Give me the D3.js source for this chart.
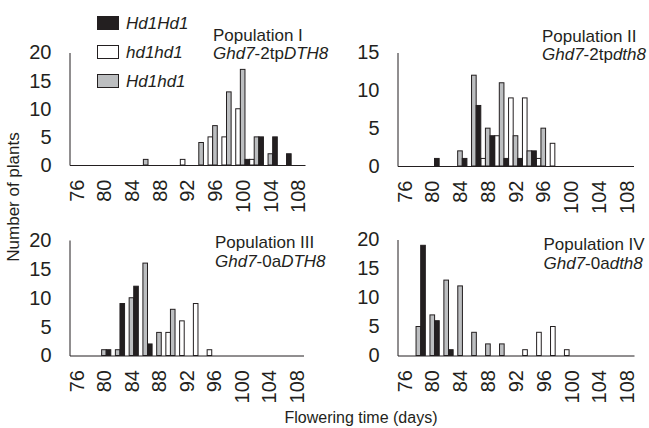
<!DOCTYPE html>
<html>
<head>
<meta charset="utf-8">
<script src="https://cdn.jsdelivr.net/npm/d3@7"></script>
<style>
  body { margin: 0; background: #fff; }
  svg { display: block; font-family: "Liberation Sans", Arial, sans-serif; }
  .bar { stroke: #231f20; stroke-width: 1; }
  .axis path { stroke: #231f20; stroke-width: 1; }
  .axis text { fill: #231f20; font-size: 20px; }
  .label { fill: #231f20; }
</style>
</head>
<body>
<div id="chart"></div>
<script>
// flowering time categories (2-day bins)
var days = [76, 78, 80, 82, 84, 86, 88, 90, 92, 94, 96, 98, 100, 102, 104, 106, 108];

// genotype classes, drawn in this order inside each bin
var genotypes = ["hd1hd1", "Hd1hd1", "Hd1Hd1"];
var legendOrder = ["Hd1Hd1", "hd1hd1", "Hd1hd1"];

// Population I  (Ghd7-2tpDTH8)
var popI_hd1hd1 = [0, 0, 0, 0, 0, 0, 0, 0, 1, 0, 5, 5, 10, 1, 0, 0, 0];
var popI_Hd1hd1 = [0, 0, 0, 0, 0, 1, 0, 0, 0, 4, 7, 13, 17, 5, 2, 0, 0];
var popI_Hd1Hd1 = [0, 0, 0, 0, 0, 0, 0, 0, 0, 0, 0, 0, 1, 5, 5, 2, 0];

// Population II (Ghd7-2tpdth8)
var popII_hd1hd1 = [0, 0, 0, 0, 0, 0, 1, 4, 9, 9, 1, 3, 0, 0, 0, 0, 0];
var popII_Hd1hd1 = [0, 0, 0, 0, 2, 12, 5, 11, 4, 2, 5, 0, 0, 0, 0, 0, 0];
var popII_Hd1Hd1 = [0, 0, 1, 0, 1, 8, 4, 1, 1, 2, 0, 0, 0, 0, 0, 0, 0];

// Population III (Ghd7-0aDTH8)
var popIII_hd1hd1 = [0, 0, 0, 0, 0, 0, 0, 4, 6, 9, 1, 0, 0, 0, 0, 0, 0];
var popIII_Hd1hd1 = [0, 0, 1, 1, 10, 16, 4, 8, 0, 0, 0, 0, 0, 0, 0, 0, 0];
var popIII_Hd1Hd1 = [0, 0, 1, 9, 12, 2, 0, 0, 0, 0, 0, 0, 0, 0, 0, 0, 0];

// Population IV (Ghd7-0adth8)
var popIV_hd1hd1 = [0, 0, 0, 0, 0, 0, 0, 0, 0, 1, 4, 5, 1, 0, 0, 0, 0];
var popIV_Hd1hd1 = [0, 5, 7, 13, 12, 4, 2, 2, 0, 0, 0, 0, 0, 0, 0, 0, 0];
var popIV_Hd1Hd1 = [0, 19, 6, 1, 0, 0, 0, 0, 0, 0, 0, 0, 0, 0, 0, 0, 0];

var yTicks20 = [0, 5, 10, 15, 20];
var yTicks15 = [0, 5, 10, 15];

var fills = { Hd1Hd1: "#231f20", hd1hd1: "#ffffff", Hd1hd1: "#bcbec0" };

var width = 649, height = 428;

var svg = d3.select("#chart").append("svg")
  .attr("width", width)
  .attr("height", height);

// panel layout: plot box plus title anchor
var panels = [
  { name: "Population I", geno: ["Ghd7", "-2tp", "DTH8"],
    series: [popI_hd1hd1, popI_Hd1hd1, popI_Hd1Hd1], ticks: yTicks20,
    left: 69.5, right: 305, top: 52.5, bottom: 165, tx: 213, ty: 40.5 },
  { name: "Population II", geno: ["Ghd7", "-2tp", "dth8"],
    series: [popII_hd1hd1, popII_Hd1hd1, popII_Hd1Hd1], ticks: yTicks15,
    left: 397.5, right: 633.5, top: 52.5, bottom: 166, tx: 542, ty: 41.5 },
  { name: "Population III", geno: ["Ghd7", "-0a", "DTH8"],
    series: [popIII_hd1hd1, popIII_Hd1hd1, popIII_Hd1Hd1], ticks: yTicks20,
    left: 69.5, right: 303.5, top: 240, bottom: 355.5, tx: 215, ty: 248 },
  { name: "Population IV", geno: ["Ghd7", "-0a", "dth8"],
    series: [popIV_hd1hd1, popIV_Hd1hd1, popIV_Hd1Hd1], ticks: yTicks20,
    left: 397.5, right: 634, top: 239.5, bottom: 355.5, tx: 543.5, ty: 250 }
];

panels.forEach(function (p) {
  var x = d3.scaleBand().domain(days).range([p.left, p.right]).padding(0);
  var xSub = d3.scaleBand().domain(genotypes).range([0, x.bandwidth()]);
  var y = d3.scaleLinear()
    .domain([0, d3.max(p.ticks)])
    .range([p.bottom, p.top]);

  var g = svg.append("g");

  // bars, one triplet per bin, empty bins skipped
  var rows = [];
  genotypes.forEach(function (geno, k) {
    p.series[k].forEach(function (v, i) {
      if (v > 0) rows.push({ geno: geno, day: days[i], value: v });
    });
  });

  g.selectAll("rect")
    .data(rows)
    .enter()
    .append("rect")
    .attr("class", "bar")
    .attr("x", function (d) { return x(d.day) + xSub(d.geno); })
    .attr("width", xSub.bandwidth())
    .attr("y", function (d) { return y(d.value); })
    .attr("height", function (d) { return y(0) - y(d.value); })
    .attr("fill", function (d) { return fills[d.geno]; });

  // y axis: line + labels, no tick marks
  var yAxis = g.append("g")
    .attr("class", "axis")
    .attr("transform", "translate(" + p.left + ",0)")
    .call(d3.axisLeft(y).tickValues(p.ticks).tickSize(0).tickPadding(18));
  yAxis.attr("font-family", null).attr("font-size", null);

  // x axis: every other bin labelled, rotated
  var xAxis = g.append("g")
    .attr("class", "axis")
    .attr("transform", "translate(0," + p.bottom + ")")
    .call(d3.axisBottom(x)
      .tickValues(days.filter(function (d, i) { return i % 2 === 0; }))
      .tickSize(0));
  xAxis.attr("font-family", null).attr("font-size", null);
  xAxis.selectAll("text")
    .attr("transform", "rotate(-90)")
    .attr("x", -14.5)
    .attr("y", 0)
    .attr("dy", "0.36em")
    .attr("text-anchor", "end");

  // title
  var t = g.append("text").attr("class", "label").style("font-size", "17px");
  t.append("tspan").attr("x", p.tx).attr("y", p.ty).text(p.name);
  var t2 = g.append("text").attr("class", "label").style("font-size", "17px")
    .attr("x", p.tx).attr("y", p.ty + 18.5);
  t2.append("tspan").style("font-style", "italic").text(p.geno[0]);
  t2.append("tspan").text(p.geno[1]);
  t2.append("tspan").style("font-style", "italic").text(p.geno[2]);
});

// legend
var legend = svg.append("g").attr("transform", "translate(97,16)");
legendOrder.forEach(function (geno, i) {
  var row = legend.append("g").attr("transform", "translate(0," + i * 29 + ")");
  row.append("rect")
    .attr("class", "bar")
    .attr("x", 0.5).attr("y", 0.5)
    .attr("width", 21).attr("height", 13)
    .attr("fill", fills[geno]);
  row.append("text")
    .attr("class", "label")
    .attr("x", 29)
    .attr("y", 12.5)
    .style("font-size", "17px")
    .style("font-style", "italic")
    .text(geno);
});

// axis titles
svg.append("text")
  .attr("class", "label")
  .attr("transform", "translate(19,197) rotate(-90)")
  .attr("text-anchor", "middle")
  .style("font-size", "17px")
  .text("Number of plants");

svg.append("text")
  .attr("class", "label")
  .attr("x", 361)
  .attr("y", 423)
  .attr("text-anchor", "middle")
  .style("font-size", "16px")
  .text("Flowering time (days)");
</script>
</body>
</html>
